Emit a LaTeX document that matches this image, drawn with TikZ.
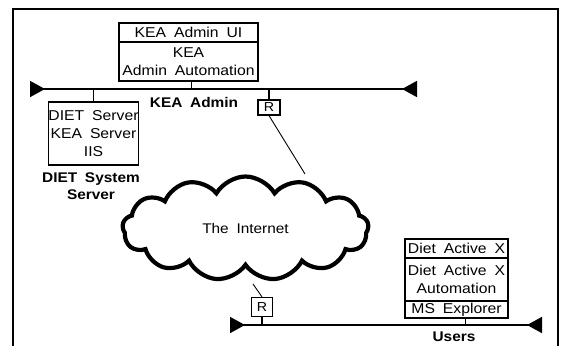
\documentclass[tikz,border=0pt]{standalone}
\usepackage{fontspec}
\setmainfont{Liberation Sans}[FakeStretch=1.1, WordSpace=1.8]
\usetikzlibrary{shapes.symbols,arrows.meta}
\begin{document}
\begin{tikzpicture}[x=1pt,y=-1pt,
  txt/.style={font=\fontsize{14.3}{18}\selectfont, inner sep=0pt, align=center},
  boxx/.style={txt, draw, line width=1.2pt},
  lbl/.style={font=\fontsize{14}{16}\selectfont\bfseries, inner sep=0pt, align=center},
  rbox/.style={draw, line width=1.2pt, inner sep=0pt, font=\fontsize{13}{13}\selectfont},
  bus/.style={line width=1.6pt, {Triangle[reversed,length=15pt,width=16pt]}-{Triangle[reversed,length=15pt,width=16pt]}},
  tick/.style={line width=1.1pt},
  link/.style={line width=0.9pt}]
\useasboundingbox (0,0) rectangle (565,346);
% frame
\draw[line width=1.8pt] (13,346) -- (13,9) -- (558,9) -- (558,346);
% KEA admin
\node[boxx, minimum width=139pt, minimum height=19pt] (kea1) at (188.5,32.5) {KEA Admin UI};
\node[boxx, minimum width=139pt, minimum height=39pt] (kea2) at (188.5,61.5) {KEA\\Admin Automation};
\coordinate (kl) at (30,89);
\coordinate (kr) at (417,89);
\draw[bus] (kl) -- (kr);
\node[lbl] (kealbl) at (194,102) {KEA Admin};
% DIET server
\node[boxx, minimum width=89pt, minimum height=63pt] (diet) at (93.5,133.5) {DIET Server\\KEA Server\\IIS};
\node[lbl, font=\fontsize{14}{16.5}\selectfont\bfseries] (dietlbl) at (91,186) {DIET System\\Server};
\draw[tick] ([xshift=3pt]kea2.south) -- ([xshift=3pt]kea2.south |- kl);
\draw[tick] (diet.north) -- (diet.north |- kl);
% router up
\node[rbox, minimum width=22pt, minimum height=15pt] (rup) at (269,107.5) {R};
\draw[tick] (rup.north) -- (rup.north |- kl);
% cloud
\node[cloud, cloud puffs=13, cloud puff arc=120, aspect=2.35, draw, line width=4.2pt,
      minimum width=246pt, minimum height=104pt, inner sep=0pt,
      font=\fontsize{14}{16}\selectfont] (cloud) at (245.5,228.5) {The Internet};
\coordinate (cin1) at (305,174);
\coordinate (cin2) at (253,284);
\draw[link] (rup.south) -- (cin1);
% router low
\node[rbox, minimum width=21pt, minimum height=19pt] (rlo) at (262,307) {R};
\draw[link] (cin2) -- (rlo.north);
% users bus
\coordinate (ul) at (230,325);
\coordinate (ur) at (542,325);
\draw[bus] (ul) -- (ur);
\draw[tick] (rlo.south) -- (rlo.south |- ul);
% user stack
\node[boxx, minimum width=103pt, minimum height=19pt] (s1) at (456.5,248.5) {Diet Active X};
\node[boxx, minimum width=103pt, minimum height=43pt] (s2) at (456.5,279.5) {Diet Active X\\Automation};
\node[boxx, minimum width=103pt, minimum height=17pt] (s3) at (456.5,309.5) {MS Explorer};
\draw[tick] ([xshift=9pt]s3.south) -- ([xshift=9pt]s3.south |- ul);
\node[lbl] (userlbl) at (454,337) {Users};
\end{tikzpicture}
\end{document}
